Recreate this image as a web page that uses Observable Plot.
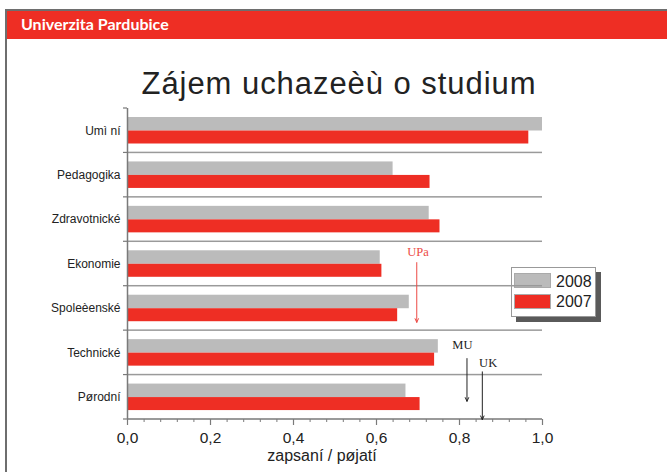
<!DOCTYPE html>
<html>
<head>
<meta charset="utf-8">
<script src="https://cdn.jsdelivr.net/npm/d3@7"></script>
<script src="https://cdn.jsdelivr.net/npm/@observablehq/plot@0.6"></script>
<style>
  body { margin: 0; background: #fff; }
  #wrap { position: relative; width: 667px; height: 472px; overflow: hidden; font-family: "Liberation Sans", Arial, sans-serif; background: #fff; }
  #topline { position: absolute; left: 5px; top: 9px; width: 662px; height: 2px; background: #6e6e6e; }
  #leftline { position: absolute; left: 5px; top: 9px; width: 2px; height: 463px; background: #6e6e6e; }
  #header { position: absolute; left: 7px; top: 11px; width: 660px; height: 28px; background: #ee2e24; }
  #headertext { position: absolute; left: 21px; top: 15.5px; font-family: Lato, "Open Sans", sans-serif; font-weight: bold; font-size: 16px; line-height: 1; color: #fff; white-space: nowrap; }
  #title { position: absolute; left: 339px; top: 68px; transform: translateX(-50%); font-size: 31px; line-height: 1; color: #222; white-space: nowrap; letter-spacing: 0.95px; }
  #xlabel { position: absolute; left: 322px; top: 447.5px; transform: translateX(-50%); font-size: 16px; line-height: 1; color: #222; white-space: nowrap; }
  #legend { position: absolute; left: 511px; top: 267px; width: 83px; height: 48px; border: 1px solid #999; background: #fff; box-shadow: 5px 5px 0 #5a5a5a; z-index: 0; }
  .sw { position: absolute; left: 2px; width: 35px; height: 13px; border: 0.5px solid #aaa; }
  .lt { position: absolute; left: 44px; font-size: 16px; line-height: 1; color: #222; }
  #chart { position: absolute; left: 0; top: 0; z-index: 1; }
</style>
</head>
<body>
<div id="wrap">
  <div id="topline"></div>
  <div id="leftline"></div>
  <div id="header"></div>
  <div id="headertext">Univerzita Pardubice</div>
  <div id="title">Zájem uchazeèù o studium</div>
  <div id="legend"></div>
  <div id="chart"></div>
  <div id="xlabel">zapsaní / pøjatí</div>
</div>
<script>
// ---- data ----
const categories = ["Umì ní", "Pedagogika", "Zdravotnické", "Ekonomie", "Spoleèenské", "Technické", "Pørodní"];
const series = ["2008", "2007"];
const v2008 = [1.000, 0.640, 0.727, 0.609, 0.679, 0.749, 0.671];
const v2007 = [0.967, 0.729, 0.753, 0.613, 0.651, 0.740, 0.705];
const xTicks = [0, 0.2, 0.4, 0.6, 0.8, 1.0];
const xMinorTicks = [0.04, 0.08, 0.12, 0.16, 0.24, 0.28, 0.32, 0.36, 0.44, 0.48, 0.52, 0.56, 0.64, 0.68, 0.72, 0.76, 0.84, 0.88, 0.92, 0.96];
const annLabels = ["UPa", "MU", "UK"];
const annTextX = [0.700, 0.807, 0.869];
const annArrowX = [0.697, 0.818, 0.855];
const annFrom = ["Ekonomie", "Technické", "Technické"];
const annTo = ["Spoleèenské", "Pørodní", "Pørodní"];
const xLabel = "zapsaní / pøjatí";

// ---- styles ----
const colors = ["#bbbbbb", "#ee2e24"];
const annColors = ["#ec4a44", "#222", "#222"];
const W = 667, H = 472;
const M = {top: 108, right: 125, bottom: 53, left: 127};
const step = (H - M.top - M.bottom) / categories.length;
const axisGray = "#7a7a7a";

const rows2008 = categories.map((c, i) => ({cat: c, value: v2008[i]}));
const rows2007 = categories.map((c, i) => ({cat: c, value: v2007[i]}));
const last = categories[categories.length - 1];

const annMarks = annLabels.flatMap((lab, i) => {
  const textDy = [-11.7, -7.6, 10.4][i];
  const inset = [[-1.4, -13.9], [5.7, -4], [19, -22.3]][i];
  return [
    Plot.text([lab], {x: () => annTextX[i], y: () => annFrom[i], text: d => d, dy: textDy,
      fill: annColors[i], fontFamily: "Liberation Serif, serif", fontSize: 12.5}),
    Plot.arrow([lab], {x1: () => annArrowX[i], x2: () => annArrowX[i], y1: () => annFrom[i], y2: () => annTo[i],
      stroke: annColors[i], strokeWidth: 1, headLength: 6, headAngle: 50,
      insetStart: inset[0], insetEnd: inset[1]})
  ];
});

const chart = Plot.plot({
  width: W,
  height: H,
  marginTop: M.top,
  marginRight: M.right,
  marginBottom: M.bottom,
  marginLeft: M.left,
  style: {background: "transparent", overflow: "visible", fontFamily: "Liberation Sans, Arial, sans-serif"},
  x: {domain: [0, 1]},
  y: {domain: categories, padding: 0, round: false},
  marks: [
    Plot.barX(rows2008, {x: "value", y: "cat", fill: colors[0], insetTop: 9, insetBottom: step - 22.5}),
    Plot.barX(rows2007, {x: "value", y: "cat", fill: colors[1], insetTop: 22.5, insetBottom: step - 35.5}),
    // category separators
    Plot.barX(categories.slice(1), {x1: 0, x2: 1, y: d => d, fill: "#9a9a9a", insetTop: -0.75, insetBottom: step - 0.75}),
    // x axis line
    Plot.barX([last], {x1: 0, x2: 1, y: d => d, fill: axisGray, insetTop: step - 0.75, insetBottom: -0.75}),
    // y axis line
    Plot.ruleX([0], {stroke: axisGray, strokeWidth: 1.5}),
    // y boundary ticks
    Plot.barX(categories, {x1: 0, x2: 0, y: d => d, fill: axisGray, insetLeft: -4, insetRight: 0, insetTop: -0.6, insetBottom: step - 0.6}),
    Plot.barX([last], {x1: 0, x2: 0, y: d => d, fill: axisGray, insetLeft: -4, insetRight: 0, insetTop: step - 0.6, insetBottom: -0.6}),
    Plot.axisY({tickSize: 0, tickPadding: 7, fontSize: 12, fill: "#222", label: null}),
    Plot.axisX({ticks: xTicks, tickSize: 6, tickPadding: 6, fontSize: 15.5, stroke: axisGray, strokeWidth: 1.2, fill: "#222",
      tickFormat: d => d.toFixed(1).replace(".", ","), label: null}),
    Plot.axisX({ticks: xMinorTicks, tickSize: 3, stroke: axisGray, strokeWidth: 1, tickFormat: () => "", label: null}),
    ...annMarks
  ]
});
document.getElementById("chart").appendChild(chart);

// legend
const legend = document.getElementById("legend");
series.forEach((s, i) => {
  const sw = document.createElement("div");
  sw.className = "sw";
  sw.style.top = (i === 0 ? 5 : 26) + "px";
  sw.style.background = colors[i];
  legend.appendChild(sw);
  const t = document.createElement("div");
  t.className = "lt";
  t.style.top = (i === 0 ? 6 : 26) + "px";
  t.textContent = s;
  legend.appendChild(t);
});
document.getElementById("xlabel").textContent = xLabel;
</script>
</body>
</html>
